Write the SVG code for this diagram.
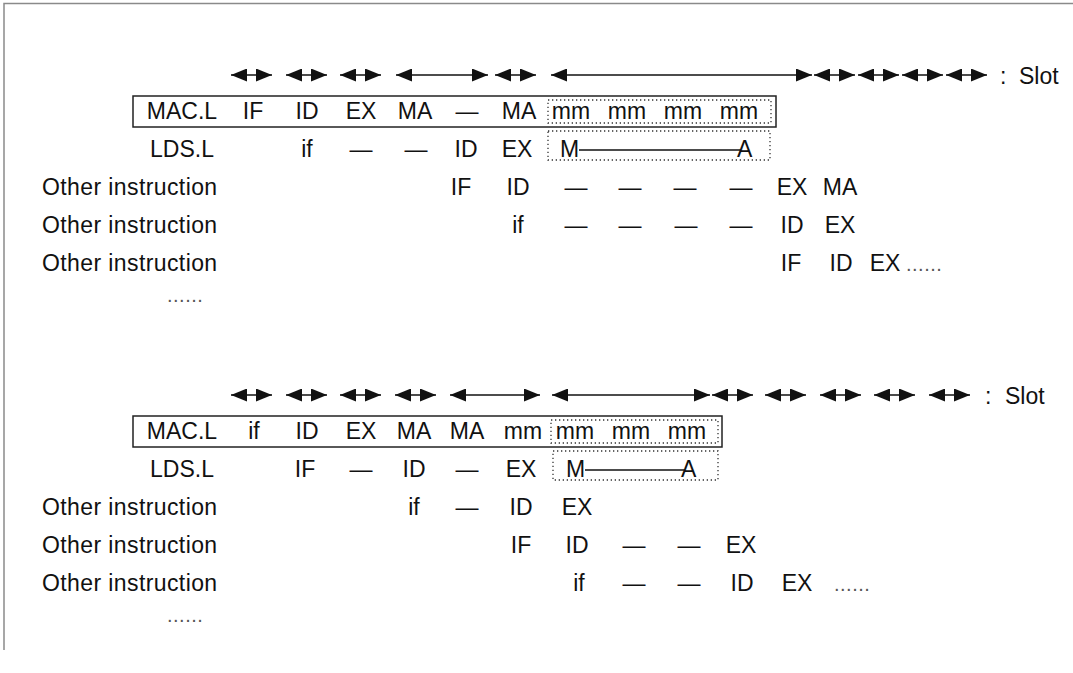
<svg xmlns="http://www.w3.org/2000/svg" width="1073" height="673" viewBox="0 0 1073 673">
<style>
text{font-family:"Liberation Sans",Arial,sans-serif;font-size:23px;fill:#111}
.c{text-anchor:middle}
.oi{letter-spacing:0.4px}
.dd{fill:#555;font-size:20px;letter-spacing:0.5px}
.arr{stroke:#111;stroke-width:1.5;fill:none;marker-start:url(#ah);marker-end:url(#ah)}
.box{fill:none;stroke:#222;stroke-width:1.5}
.dot{fill:none;stroke:#333;stroke-width:1.3;stroke-dasharray:1.3 2.7}
.ln{stroke:#111;stroke-width:1.6}
</style>
<defs>
<marker id="ah" viewBox="0 0 16 13" refX="16" refY="6.5" markerWidth="16" markerHeight="13" markerUnits="userSpaceOnUse" orient="auto-start-reverse">
<path d="M0,0 L16,6.5 L0,13 z" fill="#111"/>
</marker>
</defs>
<rect width="1073" height="673" fill="#fff"/>
<path d="M4,650 V3.5 H1073" fill="none" stroke="#8a8a8a" stroke-width="1.5"/>

<g id="connectors">
<line class="arr" x1="231" y1="75" x2="272" y2="75"/>
<line class="arr" x1="286" y1="75" x2="327" y2="75"/>
<line class="arr" x1="340" y1="75" x2="381" y2="75"/>
<line class="arr" x1="396" y1="75" x2="488" y2="75"/>
<line class="arr" x1="495" y1="75" x2="536" y2="75"/>
<line class="arr" x1="551" y1="75" x2="812" y2="75"/>
<line class="arr" x1="814" y1="75" x2="855" y2="75"/>
<line class="arr" x1="858" y1="75" x2="899" y2="75"/>
<line class="arr" x1="902" y1="75" x2="943" y2="75"/>
<line class="arr" x1="946" y1="75" x2="987" y2="75"/>

<line class="arr" x1="231" y1="395" x2="272" y2="395"/>
<line class="arr" x1="286" y1="395" x2="327" y2="395"/>
<line class="arr" x1="340" y1="395" x2="381" y2="395"/>
<line class="arr" x1="395" y1="395" x2="436" y2="395"/>
<line class="arr" x1="450" y1="395" x2="540" y2="395"/>
<line class="arr" x1="552" y1="395" x2="710" y2="395"/>
<line class="arr" x1="712" y1="395" x2="753" y2="395"/>
<line class="arr" x1="765" y1="395" x2="806" y2="395"/>
<line class="arr" x1="820" y1="395" x2="861" y2="395"/>
<line class="arr" x1="874" y1="395" x2="915" y2="395"/>
<line class="arr" x1="929" y1="395" x2="970" y2="395"/>
</g>

<g id="slot-top">
<text x="1000" y="84">:</text>
<text x="1019" y="84">Slot</text>
</g>
<g id="slot-bottom">
<text x="985" y="404">:</text>
<text x="1005" y="404">Slot</text>
</g>

<g id="top-mac">
<rect class="box" x="133" y="96" width="643" height="31"/>
<rect class="dot" x="548" y="100" width="223" height="23"/>
<text class="c" x="182" y="119">MAC.L</text>
<text class="c" x="253" y="119">IF</text>
<text class="c" x="307" y="119">ID</text>
<text class="c" x="361" y="119">EX</text>
<text class="c" x="415" y="119">MA</text>
<text class="c" x="467" y="119">—</text>
<text class="c" x="519" y="119">MA</text>
<text class="c" x="571" y="119">mm</text>
<text class="c" x="627" y="119">mm</text>
<text class="c" x="683" y="119">mm</text>
<text class="c" x="739" y="119">mm</text>
</g>

<g id="top-lds">
<rect class="dot" x="548" y="131" width="222" height="29"/>
<text class="c" x="182" y="157">LDS.L</text>
<text class="c" x="307" y="157">if</text>
<text class="c" x="361" y="157">—</text>
<text class="c" x="416" y="157">—</text>
<text class="c" x="466" y="157">ID</text>
<text class="c" x="517" y="157">EX</text>
<text x="560" y="157">M</text>
<line class="ln" x1="579" y1="150" x2="741" y2="150"/>
<text x="737" y="157">A</text>
</g>

<g id="top-other1">
<text class="oi" x="42" y="195">Other instruction</text>
<text class="c" x="461" y="195">IF</text>
<text class="c" x="518" y="195">ID</text>
<text class="c" x="576" y="195">—</text>
<text class="c" x="630" y="195">—</text>
<text class="c" x="685" y="195">—</text>
<text class="c" x="741" y="195">—</text>
<text class="c" x="792" y="195">EX</text>
<text class="c" x="840" y="195">MA</text>
</g>

<g id="top-other2">
<text class="oi" x="42" y="233">Other instruction</text>
<text class="c" x="518" y="233">if</text>
<text class="c" x="576" y="233">—</text>
<text class="c" x="630" y="233">—</text>
<text class="c" x="686" y="233">—</text>
<text class="c" x="741" y="233">—</text>
<text class="c" x="792" y="233">ID</text>
<text class="c" x="840" y="233">EX</text>
</g>

<g id="top-other3">
<text class="oi" x="42" y="271">Other instruction</text>
<text class="c" x="791" y="271">IF</text>
<text class="c" x="841" y="271">ID</text>
<text class="c" x="885" y="271">EX</text>
<text class="dd" x="906" y="271">......</text>
</g>
<g id="top-more">
<text class="dd" x="167" y="302">......</text>
</g>

<g id="bot-mac">
<rect class="box" x="133" y="416" width="589" height="31"/>
<rect class="dot" x="551" y="420" width="167" height="23"/>
<text class="c" x="182" y="439">MAC.L</text>
<text class="c" x="254" y="439">if</text>
<text class="c" x="307" y="439">ID</text>
<text class="c" x="361" y="439">EX</text>
<text class="c" x="414" y="439">MA</text>
<text class="c" x="467" y="439">MA</text>
<text class="c" x="523" y="439">mm</text>
<text class="c" x="575" y="439">mm</text>
<text class="c" x="631" y="439">mm</text>
<text class="c" x="687" y="439">mm</text>
</g>

<g id="bot-lds">
<rect class="dot" x="553" y="451" width="165" height="29"/>
<text class="c" x="182" y="477">LDS.L</text>
<text class="c" x="305" y="477">IF</text>
<text class="c" x="361" y="477">—</text>
<text class="c" x="414" y="477">ID</text>
<text class="c" x="467" y="477">—</text>
<text class="c" x="521" y="477">EX</text>
<text x="566" y="477">M</text>
<line class="ln" x1="585" y1="470" x2="685" y2="470"/>
<text x="681" y="477">A</text>
</g>

<g id="bot-other1">
<text class="oi" x="42" y="515">Other instruction</text>
<text class="c" x="414" y="515">if</text>
<text class="c" x="467" y="515">—</text>
<text class="c" x="521" y="515">ID</text>
<text class="c" x="577" y="515">EX</text>
</g>

<g id="bot-other2">
<text class="oi" x="42" y="553">Other instruction</text>
<text class="c" x="521" y="553">IF</text>
<text class="c" x="577" y="553">ID</text>
<text class="c" x="634" y="553">—</text>
<text class="c" x="689" y="553">—</text>
<text class="c" x="741" y="553">EX</text>
</g>

<g id="bot-other3">
<text class="oi" x="42" y="591">Other instruction</text>
<text class="c" x="579" y="591">if</text>
<text class="c" x="634" y="591">—</text>
<text class="c" x="689" y="591">—</text>
<text class="c" x="742" y="591">ID</text>
<text class="c" x="797" y="591">EX</text>
<text class="dd" x="834" y="591">......</text>
</g>
<g id="bot-more">
<text class="dd" x="167" y="622">......</text>
</g>
</svg>
